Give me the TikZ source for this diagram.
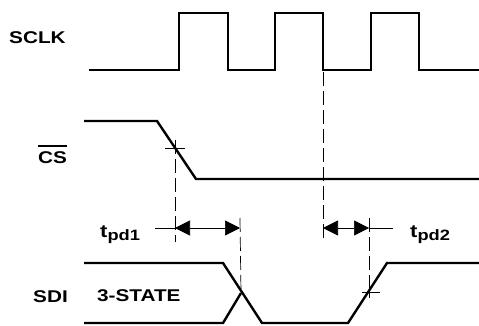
\documentclass[tikz,border=0pt]{standalone}
\usepackage{fontspec}
\setmainfont{Liberation Sans}
\usetikzlibrary{arrows.meta}
\tikzset{
  signal/.style={line width=2.4pt, line join=miter},
  guide/.style={line width=0.7pt, dash pattern=on 14pt off 5pt},
  crossmark/.style={line width=0.7pt},
  dimline/.style={line width=0.7pt, {Triangle[length=15pt,width=15pt]}-{Triangle[length=15pt,width=15pt]}},
  lbl/.style={inner sep=0pt, anchor=base west, font=\bfseries\fontsize{17}{20}\selectfont},
}
\newcommand{\widetext}[1]{\scalebox{1.22}[1]{#1}}
\newcommand{\tpdtext}[1]{\widetext{\fontsize{18}{20}\selectfont t\raisebox{-3pt}{\fontsize{15}{17}\selectfont #1}}}
\begin{document}
\begin{tikzpicture}[x=1pt, y=-1pt]
  \useasboundingbox (0,0) rectangle (479,326);
  % Signal names
  \node[lbl] (sclk) at (9,44) {\widetext{SCLK}};
  \node[lbl] (cs) at (38,164) {\widetext{CS}};
  \node[lbl] (sdi) at (33,302) {\widetext{SDI}};
  \node[lbl] (tristate) at (97,301) {\widetext{3-STATE}};
  \draw[line width=2.4pt] ([yshift=6pt]cs.north west) -- ([yshift=6pt]cs.north east);
  % Timing labels
  \node[lbl] (tpd1) at (100,237) {\tpdtext{pd1}};
  \node[lbl] (tpd2) at (410,237) {\tpdtext{pd2}};
  % Reference points
  \coordinate (csmid) at (175,148);
  \coordinate (clkfall) at (323,72);
  \coordinate (sdicross) at (241,293);
  \coordinate (sdimid) at (369,292);
  % SCLK
  \draw[signal] (89,70) -- (179,70) -- (179,13) -- (228,13) -- (228,70)
    -- (275,70) -- (275,13) -- (323,13) -- (323,70)
    -- (371,70) -- (371,13) -- (419,13) -- (419,70) -- (479,70);
  % CS
  \draw[signal] (84,121) -- (157,121) -- (196,179) -- (479,179);
  % SDI
  \draw[signal] (84,263) -- (223,263) -- (262,323) -- (348,323) -- (387,263) -- (479,263);
  \draw[signal] (84,323) -- (223,323) -- (sdicross);
  % Cross marks
  \draw[crossmark] ([xshift=-10pt]csmid) -- ([xshift=10pt]csmid);
  \draw[crossmark] ([yshift=-5pt]csmid) -- ([yshift=8pt]csmid);
  \draw[crossmark] ([xshift=-7pt]sdimid) -- ([xshift=11pt]sdimid);
  \draw[crossmark] ([yshift=-6pt]sdimid) -- ([yshift=8pt]sdimid);
  % Dashed guides
  \draw[guide] ([yshift=8pt]csmid) -- (175,242);
  \draw[guide] (240,218) -- (sdicross);
  \draw[guide] (clkfall) -- (323,240);
  \draw[guide] (369,218) -- ([yshift=-6pt]sdimid);
  % Delay arrows
  \coordinate (d1a) at (175,228);
  \coordinate (d1b) at (240,228);
  \coordinate (d2a) at (323,228);
  \coordinate (d2b) at (369,228);
  \draw[crossmark] (155,228) -- (d1a);
  \draw[dimline] (d1a) -- (d1b);
  \draw[dimline] (d2a) -- (d2b);
  \draw[crossmark] (d2b) -- (393,228);
\end{tikzpicture}
\end{document}
